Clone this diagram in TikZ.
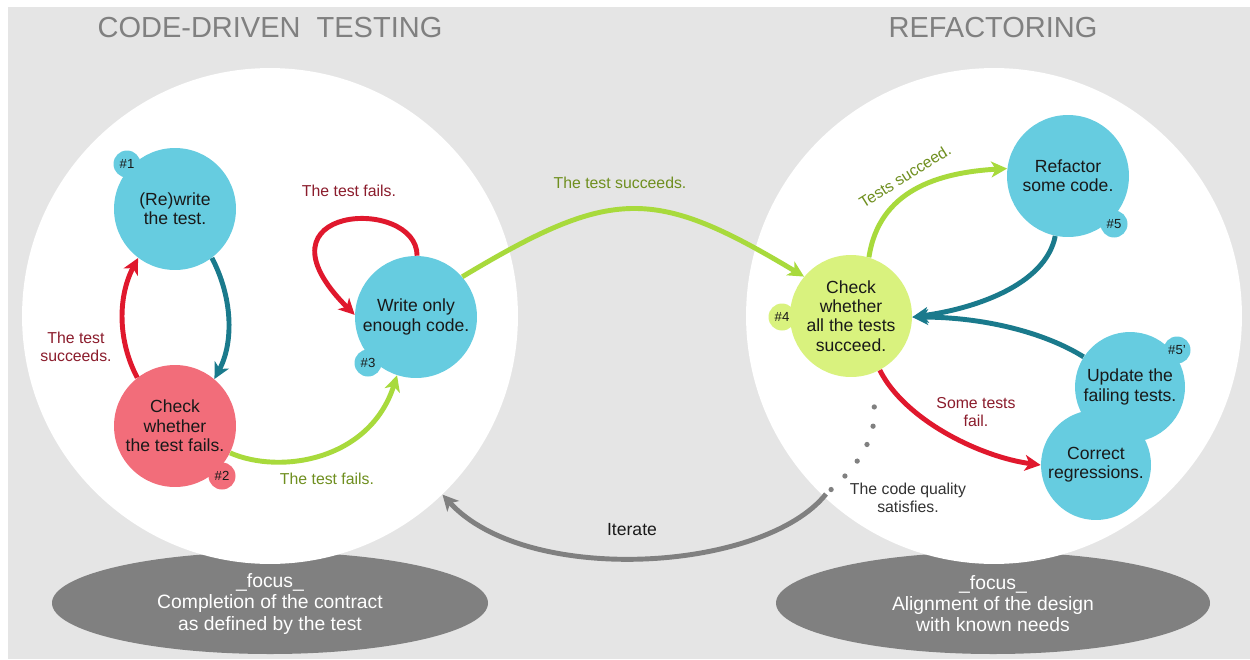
\documentclass[tikz,border=0pt]{standalone}
\usepackage{fontspec}
\setmainfont{Liberation Sans}
\usetikzlibrary{arrows.meta}
\definecolor{bggray}{HTML}{E5E5E5}
\definecolor{nodeblue}{HTML}{66CCE0}
\definecolor{nodepink}{HTML}{F26D7A}
\definecolor{nodelime}{HTML}{D9F27E}
\definecolor{arrgreen}{HTML}{A8DA3C}
\definecolor{arrteal}{HTML}{1A7A8C}
\definecolor{arrred}{HTML}{E0182D}
\definecolor{arrgray}{HTML}{808080}
\definecolor{redtxt}{HTML}{8B1C2C}
\definecolor{olivetxt}{HTML}{6F8F1F}
\begin{document}
\begin{tikzpicture}[x=0.02cm,y=-0.02cm,
  task/.style={circle,minimum size=2.44cm,inner sep=0pt,align=center,font=\fontsize{10}{11}\selectfont,text=black!90},
  badge/.style={circle,minimum size=0.54cm,inner sep=0pt,font=\fontsize{7.5}{8}\selectfont,text=black!90},
  flow/.style={line width=2.8pt,-{Stealth[length=9pt,width=9pt,inset=2.5pt]}},
  lbl/.style={align=center,font=\fontsize{9}{10.5}\selectfont}]
\useasboundingbox (0,0) rectangle (1250,659);
\fill[bggray] (8,7) rectangle (1250,659);
% focus ellipses, then the two white areas
\fill[arrgray] (270,603) ellipse (218 and 51);
\fill[arrgray] (993,603) ellipse (217 and 51);
\node[circle,fill=white,minimum size=9.92cm,inner sep=0pt] (cdt) at (270,316) {};
\node[circle,fill=white,minimum size=9.92cm,inner sep=0pt] (rft) at (994,316) {};
\node[font=\fontsize{16.5}{18}\selectfont,text=arrgray] (ttl1) at (270,28) {CODE-DRIVEN\ \ TESTING};
\node[font=\fontsize{16.5}{18}\selectfont,text=arrgray] (ttl2) at (993,28) {REFACTORING};
\node[align=center,text=white,font=\fontsize{11}{12}\selectfont] (fc1) at (270,604) {\_focus\_\\Completion of the contract\\as defined by the test};
\node[align=center,text=white,font=\fontsize{11}{12}\selectfont] (fc2) at (993,604) {\_focus\_\\Alignment of the design\\with known needs};
% steps
\node[task,fill=nodeblue] (t1) at (175,209) {(Re)write\\the test.};
\node[task,fill=nodepink] (t2) at (175,426) {Check\\whether\\the test fails.};
\node[task,fill=nodeblue] (t3) at (416,317) {Write only\\enough code.};
\node[task,fill=nodelime] (t4) at (851,316) {Check\\whether\\all the tests\\succeed.};
\node[task,fill=nodeblue] (t5) at (1068,176) {Refactor\\some code.};
\node[task,fill=nodeblue,minimum size=2.2cm] (t5u) at (1130,387) {Update the\\failing tests.};
\node[task,fill=nodeblue,minimum size=2.2cm] (t5c) at (1096,465) {Correct\\regressions.};
% badges
\node[badge,fill=nodeblue] (b1) at (127,164) {\#1};
\node[badge,fill=nodepink] (b2) at (222,476) {\#2};
\node[badge,fill=nodeblue] (b3) at (368,363) {\#3};
\node[badge,fill=nodelime] (b4) at (782,317) {\#4};
\node[badge,fill=nodeblue] (b5) at (1114,224) {\#5};
\node[badge,fill=nodeblue] (b6) at (1177,350) {\#5'};
% connectors
\draw[flow,arrteal] (t1.-53) .. controls +(20,38) and +(20,-38) .. (t2.50);
\draw[flow,arrred] (t2.128) .. controls +(-20,-38) and +(-20,38) .. (t1.233);
\draw[flow,arrred] (t3.89) .. controls +(0,-60) and +(-110,-110) .. (t3.178);
\draw[flow,arrgreen] (t2.-26) .. controls +(50,22) and +(-27,85) .. (t3.-108);
\draw[flow,arrgreen] (t3.41) .. controls +(150,-90) and +(-150,-90) .. (t4.140);
\draw[flow,arrgreen] (t4.73) .. controls +(10,-67) and +(-69,4) .. (t5.173);
\draw[flow,arrteal] (t5.-102) .. controls +(-10,50) and +(60,-8) .. (t4.-1);
\draw[flow,arrteal] (t5u.147) .. controls +(-40,-25) and +(70,0) .. (t4.-1);
\draw[flow,arrred] (t4.-62) .. controls +(25,50) and +(-60,-8) .. (t5c.180);
\coordinate (q) at (826,494);
\draw[arrgray,line width=3pt,line cap=round,dash pattern=on 0pt off 11pt,shorten <=19] (t4.-70) .. controls +(4,58) and +(40,-34) .. (q);
\draw[flow,arrgray] (q) .. controls +(-62,78) and +(84,92) .. (cdt.-46);
% labels
\node[lbl,text=redtxt] (l21) at (76,347) {The test\\succeeds.};
\node[lbl,text=redtxt] (l33) at (349,191) {The test fails.};
\node[lbl,text=olivetxt] (l23) at (327,479) {The test fails.};
\node[lbl,text=olivetxt] (l34) at (620,183) {The test succeeds.};
\node[lbl,text=olivetxt,rotate=32] (l45) at (905,176) {Tests succeed.};
\node[lbl,text=redtxt] (l4c) at (976,412) {Some tests\\fail.};
\node[lbl,text=black!80] (lq) at (908,498) {The code quality\\satisfies.};
\node[font=\fontsize{10}{11}\selectfont,text=black!90] (lit) at (632,530) {Iterate};
\end{tikzpicture}
\end{document}
